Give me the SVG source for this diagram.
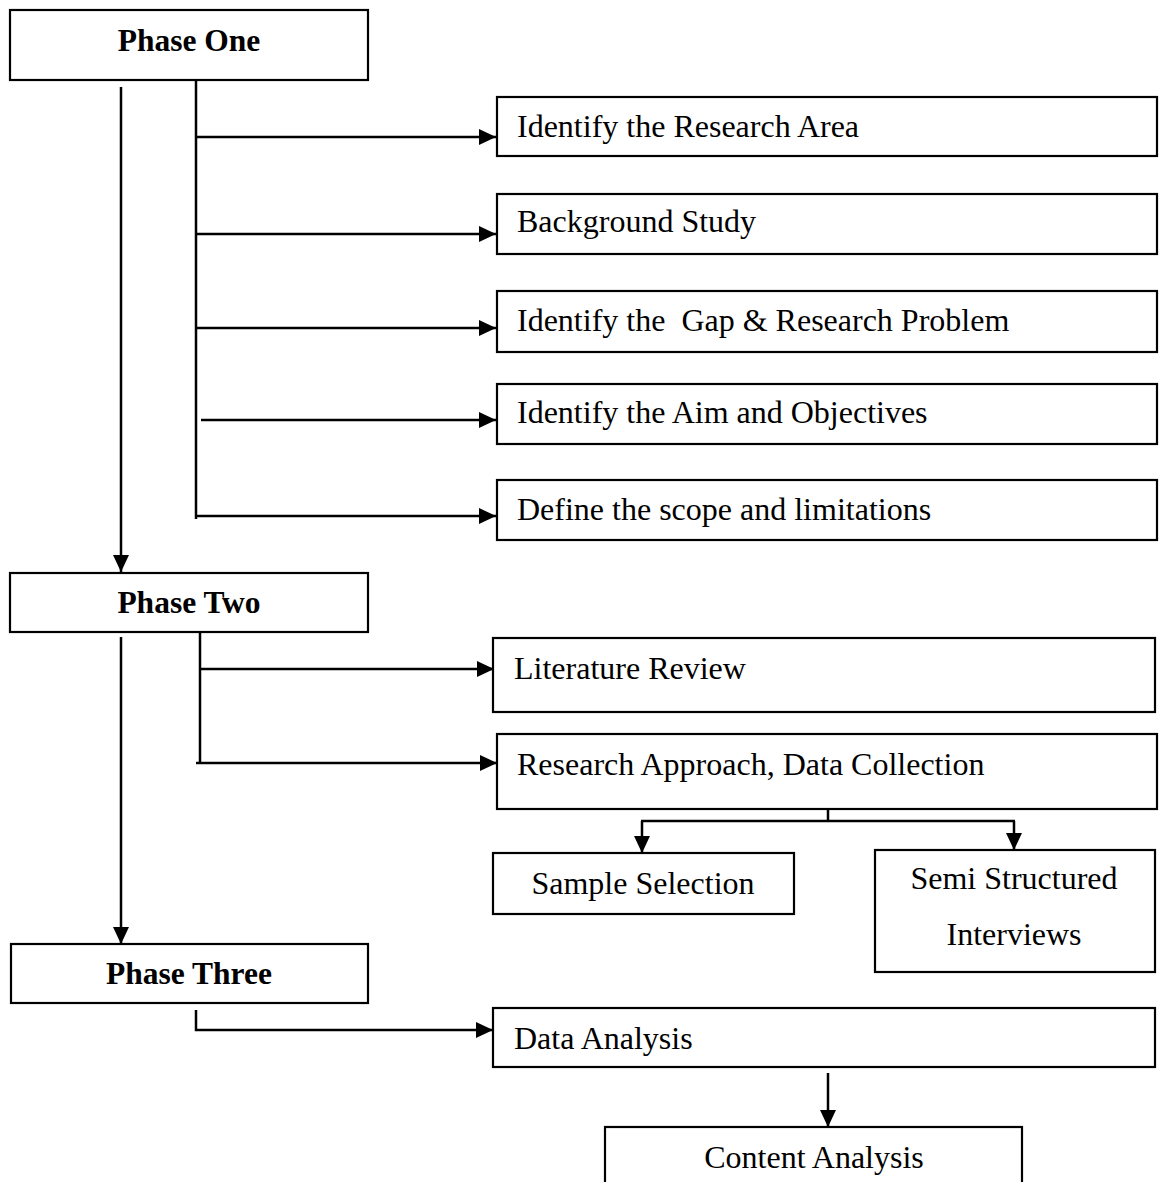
<svg xmlns="http://www.w3.org/2000/svg" width="1160" height="1182" viewBox="0 0 1160 1182">
<defs>
<marker id="ah" markerUnits="userSpaceOnUse" markerWidth="18" markerHeight="16" refX="17" refY="8" orient="auto">
<path d="M0,0 L17,8 L0,16 Z" fill="#000"/>
</marker>
<style>
.box{fill:#fff;stroke:#000;stroke-width:2.2}
.t{font-family:"Liberation Serif","Times New Roman",serif;font-size:32px;fill:#000;white-space:pre}
.b{font-family:"Liberation Serif","Times New Roman",serif;font-size:31.5px;font-weight:bold;fill:#000;text-anchor:middle}
.c{text-anchor:middle}
.ln{fill:none;stroke:#000;stroke-width:2.5}
.ar{fill:none;stroke:#000;stroke-width:2.5;marker-end:url(#ah)}
</style>
</defs>
<rect width="1160" height="1182" fill="#fff"/>
<g id="connectors">
<line class="ar" x1="121" y1="87" x2="121" y2="572"/>
<line class="ln" x1="196" y1="81" x2="196" y2="519"/>
<line class="ar" x1="196" y1="137" x2="496" y2="137"/>
<line class="ar" x1="196" y1="234" x2="496" y2="234"/>
<line class="ar" x1="196" y1="328" x2="496" y2="328"/>
<line class="ar" x1="201" y1="420" x2="496" y2="420"/>
<line class="ar" x1="195" y1="516" x2="496" y2="516"/>
<line class="ar" x1="121" y1="637" x2="121" y2="944"/>
<line class="ln" x1="200" y1="632" x2="200" y2="763"/>
<line class="ar" x1="200" y1="669" x2="494" y2="669"/>
<line class="ar" x1="196" y1="763" x2="497" y2="763"/>
<polyline class="ln" points="828,809 828,821"/>
<polyline class="ar" points="642,821 642,853"/>
<polyline class="ar" points="1014,821 1014,850"/>
<line class="ln" x1="641" y1="821" x2="1015" y2="821"/>
<polyline class="ar" points="196,1010 196,1030 493,1030"/>
<line class="ar" x1="828" y1="1073" x2="828" y2="1127"/>
</g>
<g id="phase-one"><rect class="box" x="10" y="10" width="358" height="70"/><text class="b" x="189" y="51">Phase One</text></g>
<g id="identify-area"><rect class="box" x="497" y="97" width="660" height="59"/><text class="t" x="517" y="137">Identify the Research Area</text></g>
<g id="background"><rect class="box" x="497" y="194" width="660" height="60"/><text class="t" x="517" y="232">Background Study</text></g>
<g id="gap"><rect class="box" x="497" y="291" width="660" height="61"/><text class="t" x="517" y="331">Identify the  Gap &amp; Research Problem</text></g>
<g id="aim"><rect class="box" x="497" y="384" width="660" height="60"/><text class="t" x="517" y="423">Identify the Aim and Objectives</text></g>
<g id="scope"><rect class="box" x="497" y="480" width="660" height="60"/><text class="t" x="517" y="520">Define the scope and limitations</text></g>
<g id="phase-two"><rect class="box" x="10" y="573" width="358" height="59"/><text class="b" x="189" y="613">Phase Two</text></g>
<g id="literature"><rect class="box" x="493" y="638" width="662" height="74"/><text class="t" x="514" y="679">Literature Review</text></g>
<g id="approach"><rect class="box" x="497" y="734" width="660" height="75"/><text class="t" x="517" y="775">Research Approach, Data Collection</text></g>
<g id="sample"><rect class="box" x="493" y="853" width="301" height="61"/><text class="t c" x="643" y="894">Sample Selection</text></g>
<g id="interviews"><rect class="box" x="875" y="850" width="280" height="122"/><text class="t c" x="1014" y="889">Semi Structured</text><text class="t c" x="1014" y="945">Interviews</text></g>
<g id="phase-three"><rect class="box" x="11" y="944" width="357" height="59"/><text class="b" x="189" y="984">Phase Three</text></g>
<g id="data-analysis"><rect class="box" x="493" y="1008" width="662" height="59"/><text class="t" x="514" y="1049">Data Analysis</text></g>
<g id="content-analysis"><rect class="box" x="605" y="1127" width="417" height="70"/><text class="t c" x="814" y="1168">Content Analysis</text></g>
</svg>
